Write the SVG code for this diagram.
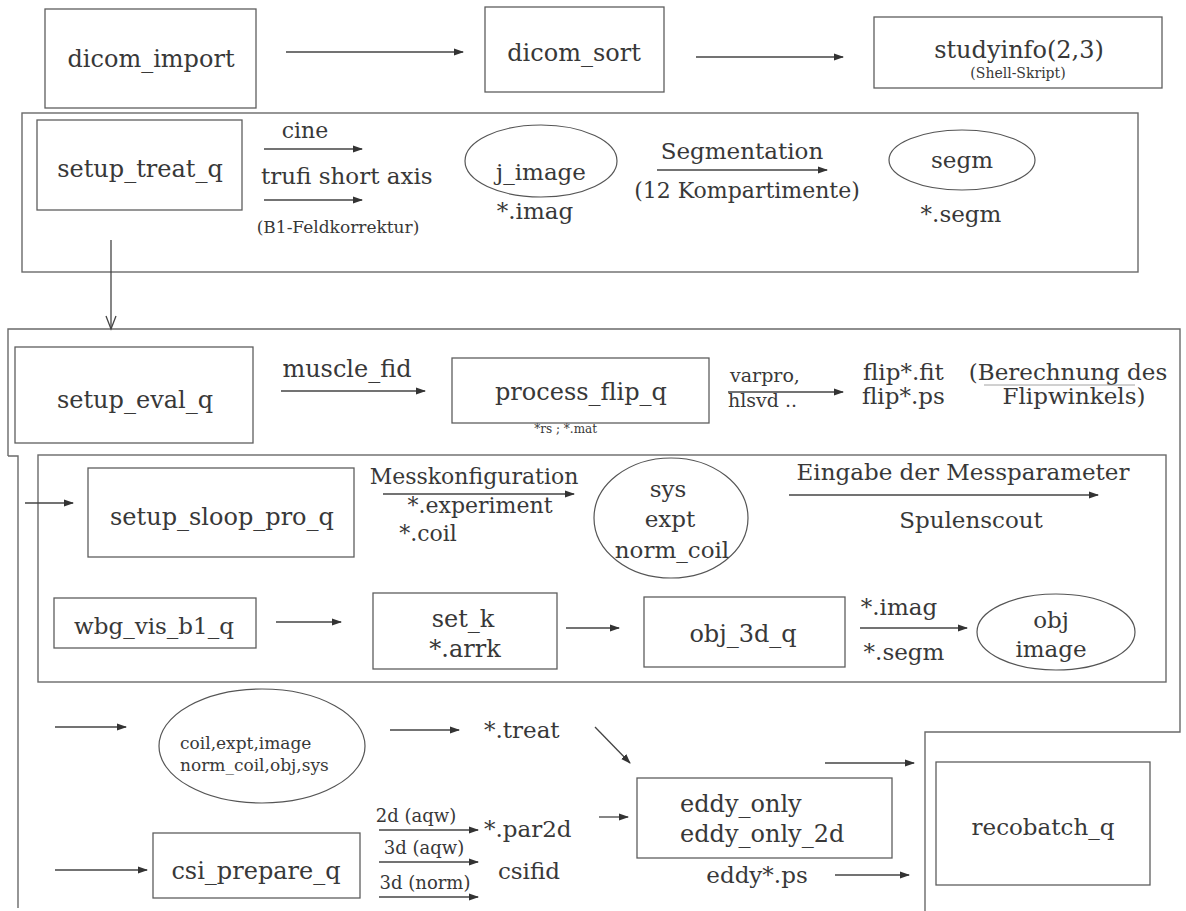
<svg xmlns="http://www.w3.org/2000/svg" width="1186" height="911" viewBox="0 0 1186 911">
  <style>
    .box { fill: none; stroke: #5e5e5e; stroke-width: 1.3; }
    .frame { fill: none; stroke: #6a6a6a; stroke-width: 1.4; }
    .ell { fill: none; stroke: #555; stroke-width: 1.2; }
    .ln { fill: none; stroke: #444; stroke-width: 1.3; }
    .arr { fill: none; stroke: #444; stroke-width: 1.3; marker-end: url(#ah); }
    text { font-family: "DejaVu Serif", "Liberation Serif", serif; fill: #383838; text-anchor: middle; }
    .l { text-anchor: start; }
    .r { text-anchor: end; }
    .f24 { font-size: 24px; }
    .f23 { font-size: 23px; }
    .f22 { font-size: 22px; }
    .f19 { font-size: 19px; }
    .f18 { font-size: 18px; }
    .f17 { font-size: 17px; }
    .f14 { font-size: 14px; }
    .f12 { font-size: 12px; }
  </style>
  <defs>
    <marker id="ah" markerWidth="10" markerHeight="8" refX="9" refY="4" orient="auto" markerUnits="userSpaceOnUse">
      <path d="M0,0.5 L10,4 L0,7.5 z" fill="#333"/>
    </marker>
  </defs>
  <rect width="1186" height="911" fill="#fff"/>

  <!-- grouping frames -->
  <g id="frames">
    <rect class="frame" x="22" y="113" width="1116" height="159"/>
    <path class="frame" d="M8,456 V329 H1180 V732 H925 V911"/>
    <path class="frame" d="M8,456 H18 V908"/>
    <rect class="frame" x="38" y="455" width="1128" height="227"/>
  </g>

  <!-- row 1 -->
  <g id="dicom_import"><rect class="box" x="45" y="9" width="211" height="99"/><text class="f24" x="151" y="67">dicom_import</text></g>
  <g id="dicom_sort"><rect class="box" x="485" y="7" width="179" height="85"/><text class="f24" x="574" y="61">dicom_sort</text></g>
  <g id="studyinfo"><rect class="box" x="874" y="17" width="288" height="71"/><text class="f24" x="1019" y="58">studyinfo(2,3)</text><text class="f14" x="1018" y="78">(Shell-Skript)</text></g>

  <!-- row 2 -->
  <g id="setup_treat_q"><rect class="box" x="37" y="120" width="205" height="90"/><text class="f24" x="140" y="177">setup_treat_q</text></g>
  <g id="j_image"><ellipse class="ell" cx="541" cy="161" rx="76" ry="36"/><text class="f23" x="541" y="180">j_image</text><text class="f23" x="535" y="219">*.imag</text></g>
  <g id="segm"><ellipse class="ell" cx="962" cy="160" rx="73" ry="30"/><text class="f23" x="962" y="168">segm</text><text class="f23" x="961" y="222">*.segm</text></g>

  <!-- row 3 -->
  <g id="setup_eval_q"><rect class="box" x="15" y="347" width="238" height="96"/><text class="f24" x="135" y="408">setup_eval_q</text></g>
  <g id="process_flip_q"><rect class="box" x="452" y="358" width="257" height="65"/><text class="f24" x="581" y="400">process_flip_q</text></g>
  <g id="flip_out"><text class="f23 l" x="863" y="380">flip*.fit</text><text class="f23 l" x="862" y="404">flip*.ps</text></g>
  <g id="flip_note"><text class="f23" x="1068" y="380">(Berechnung des</text><text class="f23" x="1074" y="404">Flipwinkels)</text><line x1="984" y1="385" x2="1135" y2="385" stroke="#8a8a8a" stroke-width="0.8"/></g>

  <!-- measurement block -->
  <g id="setup_sloop_pro_q"><rect class="box" x="88" y="468" width="266" height="89"/><text class="f24" x="222" y="525">setup_sloop_pro_q</text></g>
  <g id="sys_expt"><ellipse class="ell" cx="671" cy="518" rx="77" ry="60"/><text class="f23" x="668" y="497">sys</text><text class="f23" x="670" y="527">expt</text><text class="f23" x="672" y="558">norm_coil</text></g>
  <g id="wbg_vis_b1_q"><rect class="box" x="54" y="598" width="202" height="50"/><text class="f23" x="154" y="634">wbg_vis_b1_q</text></g>
  <g id="set_k"><rect class="box" x="373" y="593" width="184" height="76"/><text class="f24" x="463" y="627">set_k</text><text class="f24" x="465" y="657">*.arrk</text></g>
  <g id="obj_3d_q"><rect class="box" x="644" y="597" width="201" height="70"/><text class="f24" x="743" y="642">obj_3d_q</text></g>
  <g id="obj_image"><ellipse class="ell" cx="1056" cy="632" rx="79" ry="38"/><text class="f23" x="1051" y="628">obj</text><text class="f23" x="1051" y="657">image</text></g>

  <!-- bottom -->
  <g id="data_set"><ellipse class="ell" cx="262" cy="746" rx="103" ry="57"/><text class="f17 l" x="180" y="749">coil,expt,image</text><text class="f17 l" x="180" y="771">norm_coil,obj,sys</text></g>
  <g id="treat"><text class="f23 l" x="484" y="738">*.treat</text></g>
  <g id="csi_prepare_q"><rect class="box" x="153" y="833" width="207" height="65"/><text class="f24" x="256" y="879">csi_prepare_q</text></g>
  <g id="csi_out"><text class="f23 l" x="484" y="837">*.par2d</text><text class="f23" x="529" y="879">csifid</text></g>
  <g id="eddy_only"><rect class="box" x="637" y="778" width="255" height="80"/><text class="f24 l" x="680" y="812">eddy_only</text><text class="f24 l" x="680" y="842">eddy_only_2d</text><text class="f23" x="757" y="883">eddy*.ps</text></g>
  <g id="recobatch_q"><rect class="box" x="936" y="762" width="214" height="123"/><text class="f23" x="1043" y="835">recobatch_q</text></g>

  <!-- connectors and their labels -->
  <g id="connectors">
    <line class="arr" x1="286" y1="52" x2="463" y2="52"/>
    <line class="arr" x1="696" y1="57" x2="843" y2="57"/>

    <text class="f22" x="305" y="138">cine</text>
    <line class="arr" x1="264" y1="149" x2="362" y2="149"/>
    <text class="f23 l" x="261" y="184">trufi short axis</text>
    <line class="arr" x1="264" y1="200" x2="362" y2="200"/>
    <text class="f17" x="338" y="233">(B1-Feldkorrektur)</text>
    <text class="f23" x="742" y="159">Segmentation</text>
    <line class="arr" x1="657" y1="170" x2="827" y2="170"/>
    <text class="f22" x="747" y="198">(12 Kompartimente)</text>

    <line class="ln" x1="111" y1="240" x2="111" y2="329"/>
    <path class="ln" d="M106,316 L111,329 L116,316" stroke-width="2"/>

    <text class="f24" x="347" y="377">muscle_fid</text>
    <line class="arr" x1="281" y1="391" x2="425" y2="391"/>
    <text class="f12 r" x="597" y="433">*rs ; *.mat</text>
    <text class="f19 l" x="730" y="382">varpro,</text>
    <line class="arr" x1="728" y1="392" x2="843" y2="392"/>
    <text class="f19 l" x="728" y="407">hlsvd ..</text>

    <line class="arr" x1="25" y1="503" x2="73" y2="503"/>
    <text class="f22" x="474" y="484">Messkonfiguration</text>
    <line class="arr" x1="383" y1="494" x2="574" y2="494"/>
    <text class="f22" x="480" y="513">*.experiment</text>
    <text class="f22" x="428" y="541">*.coil</text>
    <text class="f23" x="963" y="480">Eingabe der Messparameter</text>
    <line class="arr" x1="789" y1="495" x2="1098" y2="495"/>
    <text class="f23" x="971" y="528">Spulenscout</text>

    <line class="arr" x1="276" y1="622" x2="341" y2="622"/>
    <line class="arr" x1="566" y1="628" x2="619" y2="628"/>
    <text class="f23" x="899" y="615">*.imag</text>
    <line class="arr" x1="860" y1="628" x2="967" y2="628"/>
    <text class="f23" x="904" y="660">*.segm</text>

    <line class="arr" x1="55" y1="727" x2="126" y2="727"/>
    <line class="arr" x1="390" y1="730" x2="459" y2="730"/>
    <line class="arr" x1="595" y1="727" x2="630" y2="763"/>
    <line class="arr" x1="825" y1="763" x2="914" y2="763"/>
    <line class="arr" x1="599" y1="817" x2="628" y2="817"/>
    <line class="arr" x1="835" y1="875" x2="909" y2="875"/>

    <line class="arr" x1="55" y1="870" x2="147" y2="870"/>
    <text class="f18" x="416" y="822">2d (aqw)</text>
    <line class="arr" x1="379" y1="830" x2="478" y2="830"/>
    <text class="f18" x="424" y="854">3d (aqw)</text>
    <line class="arr" x1="379" y1="862" x2="478" y2="862"/>
    <text class="f18" x="425" y="889">3d (norm)</text>
    <line class="arr" x1="379" y1="897" x2="478" y2="897"/>
  </g>
</svg>
